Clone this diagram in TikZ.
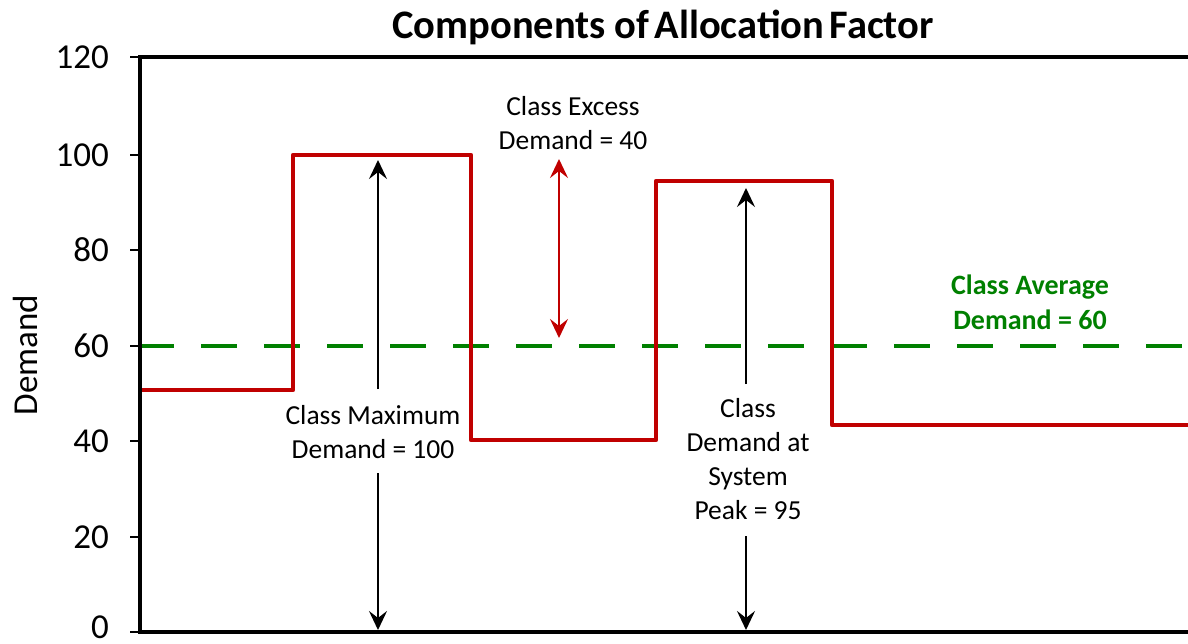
\documentclass[tikz,border=0pt]{standalone}
\usepackage{fontspec}
\setmainfont{Carlito}
\usetikzlibrary{arrows.meta}
\definecolor{cred}{RGB}{192,0,0}
\definecolor{cgreen}{RGB}{0,128,0}
\tikzset{
  frame/.style={line width=4.5pt,black},
  tick/.style={line width=1.4pt,black},
  ticklbl/.style={anchor=east,inner sep=0pt,font=\fontsize{35}{40}\selectfont},
  lbl/.style={align=center,inner sep=0pt,font=\fontsize{27.5}{34}\selectfont},
  greenlbl/.style={align=center,inner sep=0pt,text=cgreen,font=\fontsize{28}{35}\selectfont\bfseries},
  profile/.style={line width=4.5pt,cred,line join=round},
  avg/.style={line width=4.5pt,cgreen,dash pattern=on 36pt off 27pt},
  blkarrow/.style={line width=2.4pt,black,-{Stealth[length=19pt,width=18pt,inset=7pt]}},
  redarrow/.style={line width=2.4pt,cred,{Stealth[length=19pt,width=18pt,inset=7pt]}-{Stealth[length=19pt,width=18pt,inset=7pt]}}
}
\begin{document}
\begin{tikzpicture}[x=1pt,y=-1pt]
\useasboundingbox (0,0) rectangle (1188,644);
% title
\node[inner sep=0pt,font=\fontsize{40.5}{46}\selectfont\bfseries] (title) at (663,27) {Components of\hspace{-0.1em} Allocation\hspace{-0.1em} Factor};
% axis label
\node[rotate=90,inner sep=0pt,font=\fontsize{35}{40}\selectfont] (ylab) at (25,355) {Demand};
% green average line
\coordinate (g0) at (138,346);
\coordinate (g1) at (1188,346);
\draw[avg] (g0) -- (g1);
% red profile
\coordinate (p0) at (142,390);
\coordinate (p1) at (293,390);
\coordinate (p2) at (293,155);
\coordinate (p3) at (471,155);
\coordinate (p4) at (471,440);
\coordinate (p5) at (656,440);
\coordinate (p6) at (656,181);
\coordinate (p7) at (832,181);
\coordinate (p8) at (832,425);
\coordinate (p9) at (1188,425);
\draw[profile] (p0) -- (p1) -- (p2) -- (p3) -- (p4) -- (p5) -- (p6) -- (p7) -- (p8) -- (p9);
% frame
\coordinate (tl) at (140,57);
\coordinate (tr) at (1188,57);
\coordinate (bl) at (140,632);
\coordinate (br) at (1188,632);
\draw[frame] (tr) -- (tl) -- (bl) -- (br);
% ticks and labels
\foreach \v/\yy/\ly in {120/57/57,100/155/155,80/250/250,60/346/346,40/441/441,20/537/537,0/632/627}{
  \coordinate (t\v a) at (130,\yy);
  \coordinate (t\v b) at (140,\yy);
  \draw[tick] (t\v a) -- (t\v b);
  \node[ticklbl] (tl\v) at (109,\ly) {\v};
}
% labels
\node[lbl] (maxlbl) at (373,432) {Class Maximum\\Demand = 100};
\node[lbl] (exlbl) at (573,123) {Class Excess\\Demand = 40};
\node[lbl] (peaklbl) at (748,459) {Class\\Demand at\\System\\Peak = 95};
\node[greenlbl] (avglbl) at (1030,302) {Class Average\\Demand = 60};
% arrows
\coordinate (m1) at (378,389);
\coordinate (m2) at (378,160);
\coordinate (m3) at (378,473);
\coordinate (m4) at (378,630);
\draw[blkarrow] (m1) -- (m2);
\draw[blkarrow] (m3) -- (m4);
\coordinate (e1) at (559,159);
\coordinate (e2) at (559,338);
\draw[redarrow] (e1) -- (e2);
\coordinate (s1) at (746,384);
\coordinate (s2) at (746,188);
\coordinate (s3) at (746,536);
\coordinate (s4) at (746,630);
\draw[blkarrow] (s1) -- (s2);
\draw[blkarrow] (s3) -- (s4);
\end{tikzpicture}
\end{document}
